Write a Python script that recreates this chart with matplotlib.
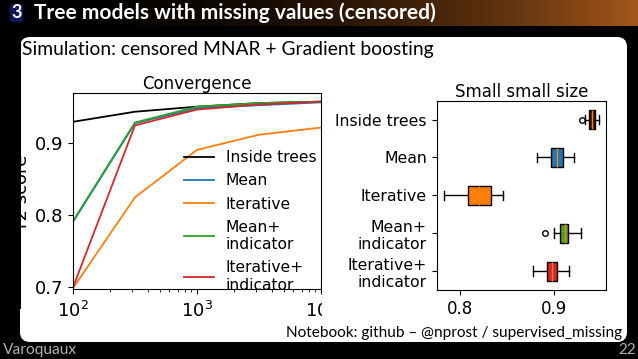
import numpy as np
import matplotlib
matplotlib.use("Agg")
import matplotlib.pyplot as plt
from matplotlib.patches import FancyBboxPatch, Rectangle

# ---- data ----
train_sizes = [100, 316, 1000, 3162, 10000]
curve_names = ["Inside trees", "Mean", "Iterative", "Mean+\nindicator", "Iterative+\nindicator"]
curve_colors = ["black", "C0", "C1", "C2", "C3"]
inside_trees = [0.929, 0.943, 0.950, 0.955, 0.957]
mean_imp = [0.790, 0.927, 0.948, 0.952, 0.956]
iterative = [0.698, 0.824, 0.890, 0.911, 0.921]
mean_ind = [0.791, 0.928, 0.950, 0.955, 0.957]
iter_ind = [0.699, 0.924, 0.946, 0.953, 0.957]

box_names = ["Inside trees", "Mean", "Iterative", "Mean+\nindicator", "Iterative+\nindicator"]
box_colors = ["#3a1408", "#1f77b4", "#ff7f0e", "#4ca02c", "#d62728"]
box_q1 = [0.937, 0.8965, 0.808, 0.906, 0.8926]
box_med = [0.940, 0.9025, 0.8205, 0.911, 0.8979]
box_q3 = [0.943, 0.909, 0.8326, 0.915, 0.9032]
box_lo = [0.9326, 0.8813, 0.783, 0.900, 0.8778]
box_hi = [0.9477, 0.9212, 0.8453, 0.928, 0.9159]
box_fliers = [[0.929], [], [], [0.890], []]

W, H = 638, 359
fig = plt.figure(figsize=(W / 100, H / 100), dpi=100, facecolor="black")


def inch(px, py):
    return px / 100, (H - py) / 100


slide_font = ["Lato", "DejaVu Sans"]

# title bar gradient
bar = fig.add_axes([0, 1 - 26 / H, 1, 26 / H])
t = np.linspace(0, 1, 400) ** 2.2
end = np.array([0.64, 0.34, 0.10])
grad = (t[:, None] * end[None, :])[None, :, :]
bar.imshow(grad, aspect="auto", extent=[0, 1, 0, 1])
bar.set_axis_off()

# section number box
x0, y0 = inch(10, 22)
fig.add_artist(FancyBboxPatch((x0, y0), 0.13, 0.18, boxstyle="round,pad=0,rounding_size=0.02",
                              transform=fig.dpi_scale_trans, facecolor="#15155e",
                              edgecolor="none", zorder=3))
fig.text(16.5 / W, 1 - 12.5 / H, "3", color="white", fontsize=13, fontweight="bold",
         family=slide_font, ha="center", va="center", zorder=4)
fig.text(34 / W, 1 - 12.5 / H, "Tree models with missing values (censored)", color="white",
         fontsize=15, fontweight="bold", family=slide_font, ha="left", va="center", zorder=4)

# white content box
bx, by = inch(20, 342)
fig.add_artist(FancyBboxPatch((bx, by), 607 / 100, 305 / 100,
                              boxstyle="round,pad=0,rounding_size=0.1",
                              transform=fig.dpi_scale_trans, facecolor="white",
                              edgecolor="none", zorder=-1))

fig.text(22 / W, 1 - 49 / H, "Simulation: censored MNAR + Gradient boosting", color="black",
         fontsize=13.9, family=slide_font, ha="left", va="center")
fig.text(622 / W, 1 - 333 / H, "Notebook: github \u2013 @nprost / supervised_missing",
         color="black", fontsize=11.1, family=slide_font, ha="right", va="center", zorder=6)
fig.text(3 / W, 1 - 350 / H, "Varoquaux", color="#b0b0b0", fontsize=11.2, family=slide_font,
         ha="left", va="center")
fig.text(636 / W, 1 - 350 / H, "22", color="#b0b0b0", fontsize=11, family=slide_font,
         ha="right", va="center")

# ---- left: convergence curves ----
ax1 = fig.add_axes([73 / W, 1 - 289 / H, (321 - 73) / W, (289 - 93) / H])
for vals, name, col in zip([inside_trees, mean_imp, iterative, mean_ind, iter_ind],
                           curve_names, curve_colors):
    ax1.plot(train_sizes, vals, color=col, label=name, lw=1.3)
ax1.set_xscale("log")
ax1.set_xlim(100, 10000)
ax1.set_ylim(0.6968, 0.969)
ax1.set_yticks([0.7, 0.8, 0.9])
ax1.tick_params(labelsize=13)
ax1.tick_params(axis="x", pad=5)
ax1.set_ylabel("r2 score", fontsize=13, labelpad=3)
ax1.set_title("Convergence", fontsize=12, pad=3)
ax1.legend(loc="lower right", bbox_to_anchor=(0.99, -0.03), frameon=False, fontsize=11.2,
           handlelength=1.95, borderaxespad=0.0, borderpad=0.15, labelspacing=0.52,
           handletextpad=0.75)

# cover the clipped parts like on the slide
fig.add_artist(Rectangle((0, 0.5), 0.21, 2.7, transform=fig.dpi_scale_trans,
                         facecolor="black", edgecolor="none", zorder=5))
fig.add_artist(Rectangle((3.22, 0.3), 1.0, 0.5, transform=fig.dpi_scale_trans,
                         facecolor="white", edgecolor="none", zorder=1))

# ---- right: boxplots ----
ax2 = fig.add_axes([436.7 / W, 1 - 290 / H, (606 - 436.7) / W, (290 - 100.7) / H], zorder=2)
stats = []
for i in range(len(box_names)):
    stats.append(dict(med=box_med[i], q1=box_q1[i], q3=box_q3[i], whislo=box_lo[i],
                      whishi=box_hi[i], fliers=box_fliers[i]))
bp = ax2.bxp(stats, positions=range(1, 6), vert=False, patch_artist=True, widths=0.5,
             flierprops=dict(marker="o", markersize=4, markerfacecolor="none"),
             medianprops=dict(color="C1", linewidth=1.0))
for patch, col in zip(bp["boxes"], box_colors):
    patch.set_facecolor(col)
ax2.set_yticks(range(1, 6))
ax2.set_yticklabels(box_names)
ax2.set_ylim(5.5, 0.5)
ax2.set_xlim(0.7753, 0.9548)
ax2.set_xticks([0.8, 0.9])
ax2.tick_params(labelsize=11.3)
ax2.tick_params(axis="x", labelsize=12)
ax2.set_title("Small small size", fontsize=12, pad=3)

fig.savefig("out.png", dpi=100, facecolor="black")
